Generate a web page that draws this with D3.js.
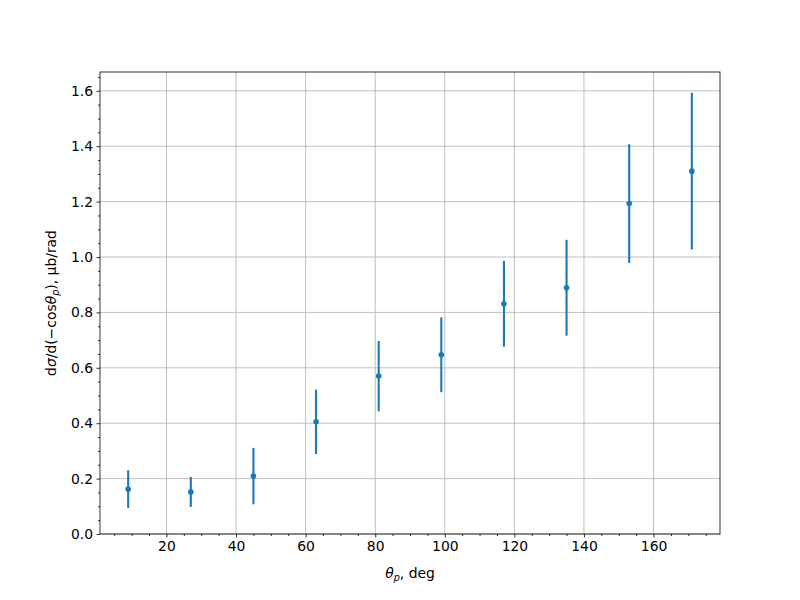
<!DOCTYPE html>
<html>
<head>
<meta charset="utf-8">
<script src="https://cdn.jsdelivr.net/npm/d3@7"></script>
<style>
body{margin:0;background:#fff;}
text{font-family:"DejaVu Sans",sans-serif;}
</style>
</head>
<body>
<svg id="chart" width="800" height="600"></svg>
<script>
const angles = [9, 27, 45, 63, 81, 99, 117, 135, 153, 171];
const values = [0.162, 0.152, 0.209, 0.405, 0.570, 0.647, 0.831, 0.889, 1.193, 1.310];
const errors = [0.068, 0.054, 0.102, 0.116, 0.127, 0.135, 0.155, 0.173, 0.214, 0.283];
const xTicks = [20, 40, 60, 80, 100, 120, 140, 160];
const yTicks = [0.0, 0.2, 0.4, 0.6, 0.8, 1.0, 1.2, 1.4, 1.6];

const svg = d3.select("#chart");
const L = 100, R = 720, T = 72, B = 534;
const color = "#1f77b4";

const xMin = d3.min(angles), xMax = d3.max(angles);
const xPad = (xMax - xMin) * 0.05;
const x = d3.scaleLinear().domain([xMin - xPad, xMax + xPad]).range([L, R]);
const yLo = d3.min(values.map((v, i) => v - errors[i]));
const yHi = d3.max(values.map((v, i) => v + errors[i]));
const y = d3.scaleLinear().domain([0, yHi + (yHi - yLo) * 0.05]).range([B, T]);

const fs = "13.9px";

// grid
const g = svg.append("g");
g.selectAll("line.gx").data(xTicks).enter().append("line")
  .attr("x1", d => x(d)).attr("x2", d => x(d)).attr("y1", T).attr("y2", B)
  .attr("stroke", "#b0b0b0").attr("stroke-width", 0.8);
g.selectAll("line.gy").data(yTicks).enter().append("line")
  .attr("x1", L).attr("x2", R).attr("y1", d => y(d)).attr("y2", d => y(d))
  .attr("stroke", "#b0b0b0").attr("stroke-width", 0.8);

// data
const pts = angles.map((a, i) => ({a, v: values[i], e: errors[i]}));
svg.append("g").selectAll("line").data(pts).enter().append("line")
  .attr("x1", d => x(d.a)).attr("x2", d => x(d.a))
  .attr("y1", d => y(d.v - d.e)).attr("y2", d => y(d.v + d.e))
  .attr("stroke", color).attr("stroke-width", 2.1);
svg.append("g").selectAll("circle").data(pts).enter().append("circle")
  .attr("cx", d => x(d.a)).attr("cy", d => y(d.v)).attr("r", 2.8)
  .attr("fill", color);

// axes
const xMinor = d3.range(5, 180, 5).filter(d => d % 20 !== 0 && x(d) >= L && x(d) <= R);
const yMinor = d3.range(0, 1.67, 0.05).map(d => +d.toFixed(2)).filter(d => Math.round(d*100) % 20 !== 0);

const xAxis = d3.axisBottom(x).tickValues(xTicks).tickSize(3.5).tickPadding(3.5).tickFormat(d3.format("d"));
const xAxisMinor = d3.axisBottom(x).tickValues(xMinor).tickSize(2).tickFormat("");
const yAxis = d3.axisLeft(y).tickValues(yTicks).tickSize(3.5).tickPadding(3.5).tickFormat(d3.format(".1f"));
const yAxisMinor = d3.axisLeft(y).tickValues(yMinor).tickSize(2).tickFormat("");

function style(sel) {
  sel.select(".domain").remove();
  sel.selectAll("line").attr("stroke", "#000").attr("stroke-width", 0.8);
  sel.selectAll("text").attr("font-size", fs).attr("fill", "#000").attr("font-family", "DejaVu Sans");
}
svg.append("g").attr("transform", `translate(0,${B})`).call(xAxis).call(style);
svg.append("g").attr("transform", `translate(0,${B})`).call(xAxisMinor).call(style);
svg.append("g").attr("transform", `translate(${L},0)`).call(yAxis).call(style);
svg.append("g").attr("transform", `translate(${L},0)`).call(yAxisMinor).call(style);

// frame
svg.append("rect").attr("x", L).attr("y", T).attr("width", R - L).attr("height", B - T)
  .attr("fill", "none").attr("stroke", "#000").attr("stroke-width", 0.8);

// labels
const xl = svg.append("text").attr("x", (L + R) / 2).attr("y", 578)
  .attr("text-anchor", "middle").attr("font-size", fs);
xl.append("tspan").attr("font-style", "italic").text("θ");
xl.append("tspan").attr("font-style", "italic").attr("font-size", "9.7px").attr("dy", 2.5).text("p");
xl.append("tspan").attr("dy", -2.5).text(", deg");

const yl = svg.append("text").attr("transform", `translate(56,${(T + B) / 2}) rotate(-90)`)
  .attr("text-anchor", "middle").attr("font-size", fs);
yl.append("tspan").text("d");
yl.append("tspan").attr("font-style", "italic").text("σ");
yl.append("tspan").text("/d(−cos");
yl.append("tspan").attr("font-style", "italic").text("θ");
yl.append("tspan").attr("font-style", "italic").attr("font-size", "9.7px").attr("dy", 2.5).text("p");
yl.append("tspan").attr("dy", -2.5).text("), μb/rad");
</script>
</body>
</html>
